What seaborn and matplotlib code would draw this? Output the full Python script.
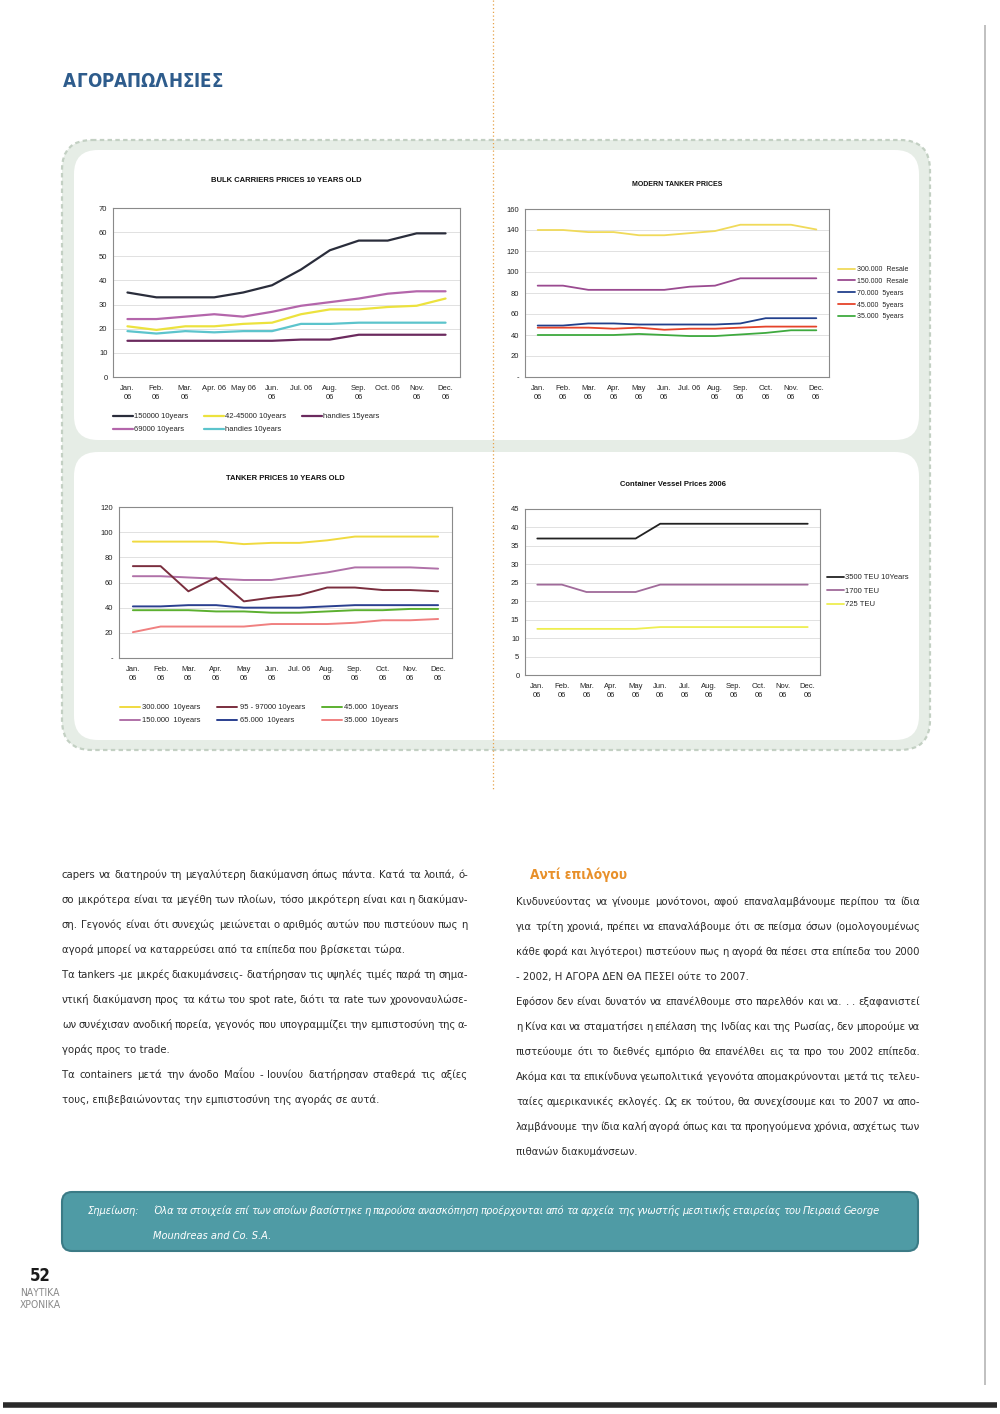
import matplotlib
matplotlib.use("Agg")
import matplotlib.pyplot as plt
import seaborn as sns
import numpy as np
import pandas as pd
from matplotlib import font_manager
from matplotlib.patches import FancyBboxPatch
from matplotlib.lines import Line2D
from matplotlib.ticker import FuncFormatter, MultipleLocator

# ---------------- data ----------------
month_idx = list(range(12))

bulk_xlabels = ["Jan.\n06", "Feb.\n06", "Mar.\n06", "Apr. 06", "May 06", "Jun.\n06",
                "Jul. 06", "Aug.\n06", "Sep.\n06", "Oct. 06", "Nov.\n06", "Dec.\n06"]
tanker_xlabels = ["Jan.\n06", "Feb.\n06", "Mar.\n06", "Apr.\n06", "May\n06", "Jun.\n06",
                  "Jul. 06", "Aug.\n06", "Sep.\n06", "Oct.\n06", "Nov.\n06", "Dec.\n06"]
container_xlabels = ["Jan.\n06", "Feb.\n06", "Mar.\n06", "Apr.\n06", "May\n06", "Jun.\n06",
                     "Jul.\n06", "Aug.\n06", "Sep.\n06", "Oct.\n06", "Nov.\n06", "Dec.\n06"]

bulk_names = ["150000 10years", "69000 10years", "42-45000 10years", "handies 10years", "handies 15years"]
bulk_150000 = [35, 33, 33, 33, 35, 38, 44.5, 52.5, 56.5, 56.5, 59.5, 59.5]
bulk_69000 = [24, 24, 25, 26, 25, 27, 29.5, 31, 32.5, 34.5, 35.5, 35.5]
bulk_42_45000 = [21, 19.5, 21, 21, 22, 22.5, 26, 28, 28, 29, 29.5, 32.5]
bulk_handies10 = [19, 18, 19, 18.5, 19, 19, 22, 22, 22.5, 22.5, 22.5, 22.5]
bulk_handies15 = [15, 15, 15, 15, 15, 15, 15.5, 15.5, 17.5, 17.5, 17.5, 17.5]

modern_names = ["300.000  Resale", "150.000  Resale", "70.000  5years", "45.000  5years", "35.000  5years"]
modern_300 = [140, 140, 138, 138, 135, 135, 137, 139, 145, 145, 145, 140.5]
modern_150 = [87, 87, 83, 83, 83, 83, 86, 87, 94, 94, 94, 94]
modern_70 = [49, 49, 51, 51, 50, 50, 50, 50, 51, 56, 56, 56]
modern_45 = [47, 47, 47, 46, 47, 45, 46, 46, 47, 48, 48, 48]
modern_35 = [40, 40, 40, 40, 41, 40, 39, 39, 40.5, 42, 44.5, 44.5]

tanker_names = ["300.000  10years", "150.000  10years", "95 - 97000 10years", "65.000  10years",
                "45.000  10years", "35.000  10years"]
tanker_300 = [92.5, 92.5, 92.5, 92.5, 90.5, 91.5, 91.5, 93.5, 96.5, 96.5, 96.5, 96.5]
tanker_150 = [65, 65, 64, 63, 62, 62, 65, 68, 72, 72, 72, 71]
tanker_95_97 = [73, 73, 53, 64, 45, 48, 50, 56, 56, 54, 54, 53]
tanker_65 = [41, 41, 42, 42, 40, 40, 40, 41, 42, 42, 42, 42]
tanker_45 = [38, 38, 38, 37, 37, 36, 36, 37, 38, 38, 39, 39]
tanker_35 = [20.5, 25, 25, 25, 25, 27, 27, 27, 28, 30, 30, 31]

container_names = ["3500 TEU 10Years", "1700 TEU", "725 TEU"]
container_3500 = [37, 37, 37, 37, 37, 41, 41, 41, 41, 41, 41, 41]
container_1700 = [24.5, 24.5, 22.5, 22.5, 22.5, 24.5, 24.5, 24.5, 24.5, 24.5, 24.5, 24.5]
container_725 = [12.5, 12.5, 12.5, 12.5, 12.5, 13, 13, 13, 13, 13, 13, 13]

page_title = "ΑΓΟΡΑΠΩΛΗΣΙΕΣ"
left_lines = [
    "capers να διατηρούν τη μεγαλύτερη διακύμανση όπως πάντα. Κατά τα λοιπά, ό-",
    "σο μικρότερα είναι τα μεγέθη των πλοίων, τόσο μικρότερη είναι και η διακύμαν-",
    "ση. Γεγονός είναι ότι συνεχώς μειώνεται ο αριθμός αυτών που πιστεύουν πως η",
    "αγορά μπορεί να καταρρεύσει από τα επίπεδα που βρίσκεται τώρα.",
    "Τα tankers -με μικρές διακυμάνσεις- διατήρησαν τις υψηλές τιμές παρά τη σημα-",
    "ντική διακύμανση προς τα κάτω του spot rate, διότι τα rate των χρονοναυλώσε-",
    "ων συνέχισαν ανοδική πορεία, γεγονός που υπογραμμίζει την εμπιστοσύνη της α-",
    "γοράς προς το trade.",
    "Τα containers μετά την άνοδο Μαΐου - Ιουνίου διατήρησαν σταθερά τις αξίες",
    "τους, επιβεβαιώνοντας την εμπιστοσύνη της αγοράς σε αυτά.",
]
left_par_end = [3, 7, 9]
right_heading = "Αντί επιλόγου"
right_lines = [
    "Κινδυνεύοντας να γίνουμε μονότονοι, αφού επαναλαμβάνουμε περίπου τα ίδια",
    "για τρίτη χρονιά, πρέπει να επαναλάβουμε ότι σε πείσμα όσων (ομολογουμένως",
    "κάθε φορά και λιγότεροι) πιστεύουν πως η αγορά θα πέσει στα επίπεδα του 2000",
    "- 2002, Η ΑΓΟΡΑ ΔΕΝ ΘΑ ΠΕΣΕΙ ούτε το 2007.",
    "Εφόσον δεν είναι δυνατόν να επανέλθουμε στο παρελθόν και να. . . εξαφανιστεί",
    "η Κίνα και να σταματήσει η επέλαση της Ινδίας και της Ρωσίας, δεν μπορούμε να",
    "πιστεύουμε ότι το διεθνές εμπόριο θα επανέλθει εις τα προ του 2002 επίπεδα.",
    "Ακόμα και τα επικίνδυνα γεωπολιτικά γεγονότα απομακρύνονται μετά τις τελευ-",
    "ταίες αμερικανικές εκλογές. Ως εκ τούτου, θα συνεχίσουμε και το 2007 να απο-",
    "λαμβάνουμε την ίδια καλή αγορά όπως και τα προηγούμενα χρόνια, ασχέτως των",
    "πιθανών διακυμάνσεων.",
]
right_par_end = [3, 10]
note_label = "Σημείωση:"
note_lines = ["Όλα τα στοιχεία επί των οποίων βασίστηκε η παρούσα ανασκόπηση προέρχονται από τα αρχεία της γνωστής μεσιτικής εταιρείας του Πειραιά George",
              "Moundreas and Co. S.A."]
page_number = "52"
magazine_name = ["ΝΑΥΤΙΚΑ", "ΧΡΟΝΙΚΑ"]

# ---------------- fonts ----------------
sns.set_theme(style="white")
plt.rcParams["font.family"] = ["Liberation Sans", "DejaVu Sans"]

installed = font_manager.fontManager.ttflist
names = {f.name for f in installed}
body_kw = {"family": ["Liberation Sans", "DejaVu Sans"]}
if "Liberation Sans Narrow" in names:
    body_kw = {"family": ["Liberation Sans Narrow", "DejaVu Sans"]}
elif any(f.name == "DejaVu Sans" and f.stretch == "condensed" for f in installed):
    body_kw = {"family": ["DejaVu Sans"], "fontstretch": "condensed"}

W, H = 1000, 1414
fig = plt.figure(figsize=(W / 100, H / 100), dpi=100)
fig.patch.set_facecolor("white")
page = fig.add_axes([0, 0, 1, 1])
page.set_xlim(0, W)
page.set_ylim(H, 0)
page.axis("off")
renderer = fig.canvas.get_renderer()


def px_rect(l, t, r, b):
    return [l / W, 1 - b / H, (r - l) / W, (b - t) / H]


def measure(s, size, **kw):
    t = page.text(0, 0, s, fontsize=size, **kw)
    w = t.get_window_extent(renderer).width
    t.remove()
    return w


def place_line(x0, x1, y, s, size, justify, parts=None, **kw):
    if not justify:
        page.text(x0, y, s, fontsize=size, ha="left", va="baseline", **kw)
        return
    words = parts if parts is not None else s.split()
    widths = [measure(w, size, **kw) for w in words]
    gap = (x1 - x0 - sum(widths)) / max(len(words) - 1, 1)
    x = x0
    for w, wd in zip(words, widths):
        page.text(x, y, w, fontsize=size, ha="left", va="baseline", **kw)
        x += wd + gap


def tight_width(s, size, **kw):
    # words plus a reduced inter-word space
    words = s.split()
    sp = measure("a a", size, **kw) - measure("aa", size, **kw)
    return sum(measure(w, size, **kw) for w in words) + 0.6 * sp * (len(words) - 1)


# ---------------- page decoration ----------------
page.add_patch(FancyBboxPatch((62, 140), 868, 610, boxstyle="round,pad=0,rounding_size=30",
                              facecolor="#e6ede6", edgecolor="#c3d0c3", lw=1.6, ls=(0, (2, 1.5))))
page.add_patch(FancyBboxPatch((74, 150), 845, 290, boxstyle="round,pad=0,rounding_size=24",
                              facecolor="white", edgecolor="none"))
page.add_patch(FancyBboxPatch((74, 452), 845, 288, boxstyle="round,pad=0,rounding_size=24",
                              facecolor="white", edgecolor="none"))
page.vlines(493, 0, 790, color="#e6a24a", lw=0.9, linestyles=(0, (1, 2)), zorder=5)
page.vlines(985, 25, 1385, color="#b5b5b5", lw=1.2)
page.hlines(1405, 3, 997, color="#2a2a2a", lw=4)

# title with letter spacing
place_line(63, 223, 87, page_title, 13.5, True, parts=list(page_title),
           color="#2e5c8c", fontweight="bold", **body_kw)


# ---------------- charts ----------------
def draw_chart(rect, title, title_y, names_, series, colors, xlabels, ylim, ystep, dash_zero, lw, title_size=5.5):
    ax = fig.add_axes(px_rect(*rect))
    df = pd.DataFrame({"idx": month_idx * len(names_),
                       "value": sum([list(s) for s in series], []),
                       "series": sum([[n] * 12 for n in names_], [])})
    sns.lineplot(data=df, x="idx", y="value", hue="series", hue_order=names_,
                 palette=dict(zip(names_, colors)), linewidth=lw, ax=ax, legend=False)
    ax.set_xlim(-0.5, 11.5)
    ax.set_ylim(*ylim)
    ax.yaxis.set_major_locator(MultipleLocator(ystep))
    if dash_zero:
        ax.yaxis.set_major_formatter(FuncFormatter(lambda v, p: "-" if v == 0 else f"{v:.0f}"))
    ax.set_xticks(month_idx)
    ax.set_xticklabels(xlabels, linespacing=1.3)
    ax.set_xlabel("")
    ax.set_ylabel("")
    ax.tick_params(labelsize=5.5, colors="#222222", length=0, pad=4)
    ax.tick_params(axis="x", pad=6)
    ax.yaxis.grid(True, color="#dcdcdc", lw=0.6)
    ax.set_axisbelow(True)
    for sp in ax.spines.values():
        sp.set_color("#8a8a8a")
        sp.set_linewidth(0.8)
    cx = (rect[0] + rect[2]) / 2
    fig.text(cx / W, 1 - title_y / H, title, fontsize=title_size, fontweight="bold",
             ha="center", va="center", color="#111111")
    handles = [Line2D([], [], color=c, lw=lw) for c in colors]
    return ax, handles


# bulk carriers
ax1, h1 = draw_chart((113, 208, 460, 377), "BULK CARRIERS PRICES 10 YEARS OLD", 180, bulk_names,
                     [bulk_150000, bulk_69000, bulk_42_45000, bulk_handies10, bulk_handies15],
                     ["#2a2d3b", "#b466ab", "#ece23e", "#5cc4cc", "#6b2a5e"],
                     bulk_xlabels, (0, 70), 10, False, 1.6)
fig.legend(h1, bulk_names, loc="upper left", bbox_to_anchor=(113 / W, 1 - 413 / H), ncol=3,
           frameon=False, fontsize=5.5, handlelength=2.6, handletextpad=0.2, columnspacing=2.0,
           labelspacing=0.75, borderpad=0, borderaxespad=0)

# modern tankers
ax2, h2 = draw_chart((525, 209, 829, 377), "MODERN TANKER PRICES", 184, modern_names,
                     [modern_300, modern_150, modern_70, modern_45, modern_35],
                     ["#f0da5a", "#9a4a90", "#22408c", "#e5432a", "#3faa3f"],
                     tanker_xlabels, (0, 160), 20, True, 1.3, title_size=5)
fig.legend(h2, modern_names, loc="upper left", bbox_to_anchor=(838 / W, 1 - 266 / H), ncol=1,
           frameon=False, fontsize=5, handlelength=2.4, handletextpad=0.3,
           labelspacing=0.7, borderpad=0, borderaxespad=0)

# tankers 10 years
ax3, h3 = draw_chart((119, 507, 452, 658), "TANKER PRICES 10 YEARS OLD", 479, tanker_names,
                     [tanker_300, tanker_150, tanker_95_97, tanker_65, tanker_45, tanker_35],
                     ["#f0da40", "#b071a8", "#7a2e3e", "#2a3f8f", "#5cb030", "#f08080"],
                     tanker_xlabels, (0, 120), 20, True, 1.4)
fig.legend(h3, tanker_names, loc="upper left", bbox_to_anchor=(120 / W, 1 - 704 / H), ncol=3,
           frameon=False, fontsize=5.5, handlelength=2.6, handletextpad=0.3, columnspacing=2.2,
           labelspacing=0.75, borderpad=0, borderaxespad=0)

# container vessels
ax4, h4 = draw_chart((525, 509, 820, 675), "Container Vessel Prices 2006", 484, container_names,
                     [container_3500, container_1700, container_725],
                     ["#222222", "#a06a9a", "#eeee50"],
                     container_xlabels, (0, 45), 5, False, 1.3)
fig.legend(h4, container_names, loc="upper left", bbox_to_anchor=(827 / W, 1 - 574 / H), ncol=1,
           frameon=False, fontsize=5.5, handlelength=2.2, handletextpad=0.2,
           labelspacing=0.8, borderpad=0, borderaxespad=0)

# ---------------- body text ----------------
text_color = "#2b2b2b"
base = 10
ratios = []
for lines, ends, w in [(left_lines, left_par_end, 406), (right_lines, right_par_end, 404)]:
    for i, s in enumerate(lines):
        if i not in ends:
            ratios.append(w / tight_width(s, base, **body_kw))
body_size = min(min(ratios) * base * 0.995, 12)

for i, s in enumerate(left_lines):
    place_line(62, 468, 878 + 25 * i, s, body_size, i not in left_par_end, color=text_color, **body_kw)
for i, s in enumerate(right_lines):
    place_line(516, 920, 905 + 25 * i, s, body_size, i not in right_par_end, color=text_color, **body_kw)

hs = 13 * 97 / measure(right_heading, 13, fontweight="bold", **body_kw)
page.text(530, 879, right_heading, fontsize=hs, fontweight="bold", color="#e8902a",
          ha="left", va="baseline", **body_kw)

# ---------------- note box ----------------
page.add_patch(FancyBboxPatch((62, 1192), 856, 59, boxstyle="round,pad=0,rounding_size=10",
                              facecolor="#4f9ba5", edgecolor="#3b7b86", lw=1.5))
ns = 10 * 727 / tight_width(note_lines[0], 10, style="italic", **body_kw)
ns = min(ns, 12)
page.text(88, 1214, note_label, fontsize=ns, style="italic", color="white", ha="left", va="baseline", **body_kw)
place_line(153, 880, 1214, note_lines[0], ns, True, style="italic", color="white", **body_kw)
place_line(153, 880, 1239, note_lines[1], ns, False, style="italic", color="white", **body_kw)

# ---------------- footer ----------------
page.text(40, 1276, page_number, fontsize=12, fontweight="bold", color="#1a1a1a",
          ha="center", va="center", **body_kw)
for i, s in enumerate(magazine_name):
    page.text(40, 1293 + 11.5 * i, s, fontsize=7.5, color="#8a8a8a", ha="center", va="center", **body_kw)

fig.savefig("out.png", dpi=100, facecolor="white")
